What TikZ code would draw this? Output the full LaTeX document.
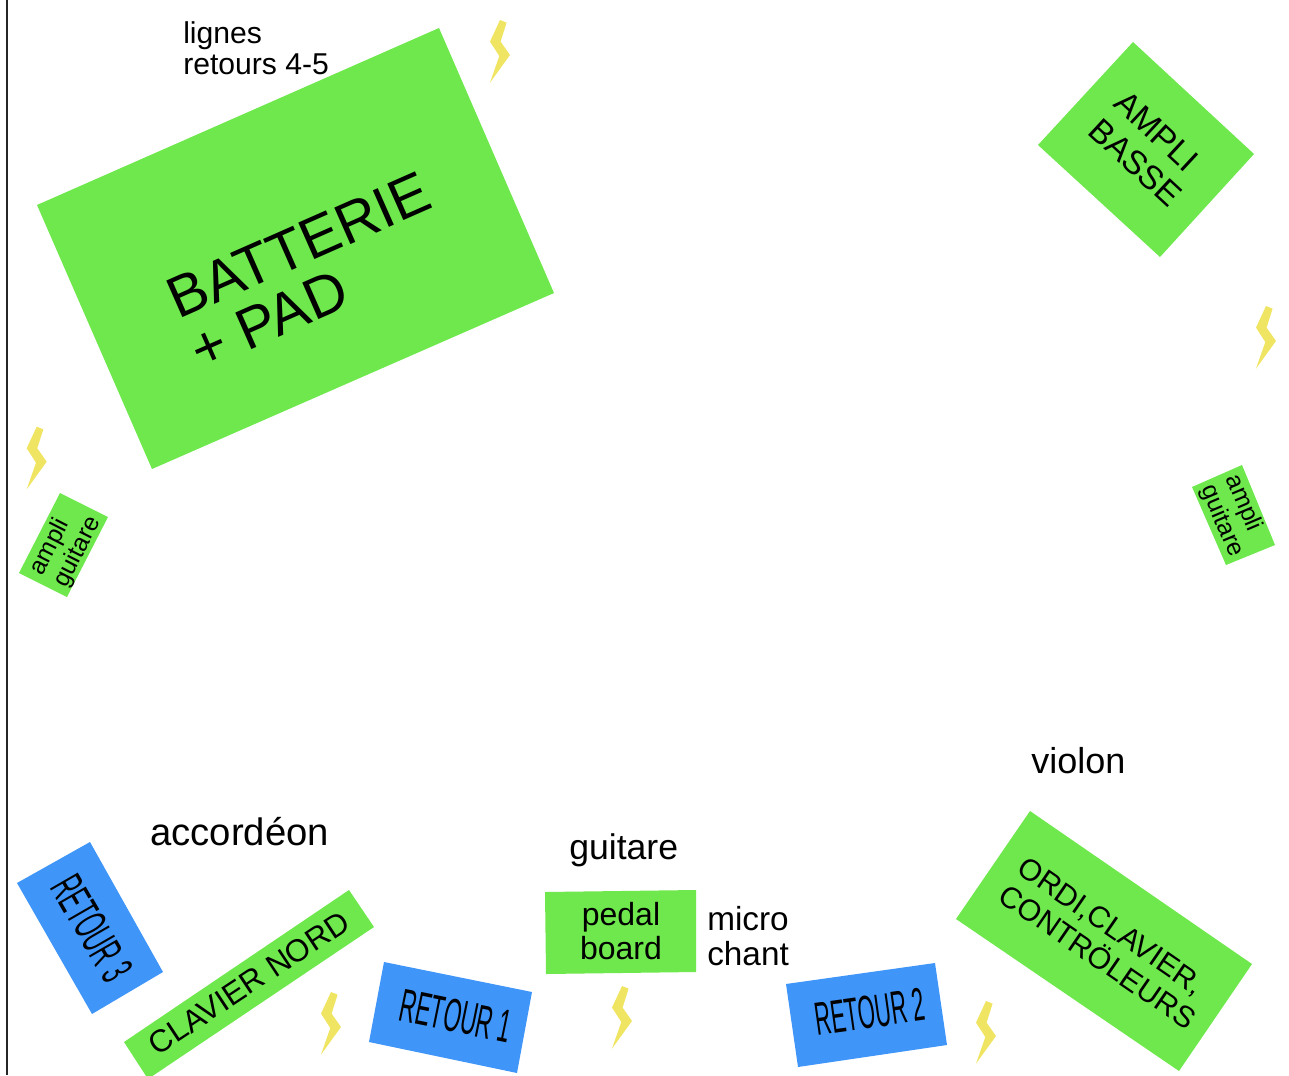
\documentclass[tikz,border=0pt]{standalone}
\usepackage{fontspec}
\setmainfont{Liberation Sans}
\definecolor{gr}{HTML}{6EE84C}
\definecolor{bl}{HTML}{4095F8}
\definecolor{yl}{HTML}{F0E562}
\newcommand{\fsz}[2]{\fontsize{#1}{#2}\selectfont}
\tikzset{
  plain/.style={inner sep=0pt,text=black},
  greenshape/.style={fill=gr,draw=none},
  blueshape/.style={fill=bl,draw=none},
  bolt/.pic={\fill[yl] (10,0)--(16.6,2.6)--(10.6,21.6)--(20,35)--(0,62.6)--(9.3,36)--(0,21.6)--cycle;}
}
\begin{document}
\begin{tikzpicture}[x=0.75pt,y=-0.75pt]
\useasboundingbox (0,0) rectangle (1289,1075);
\draw[color=black!85,line width=1.5pt] (7,0)--(7,1075);
\begin{scope}
\clip (0,0) rectangle (1289,1075);
\fill[greenshape] (439,28)--(554,293)--(152,469)--(37,205)--cycle;
\fill[greenshape] (1133,42)--(1254,154)--(1160,257)--(1038,145)--cycle;
\fill[greenshape] (1242,465)--(1275,545)--(1226,565)--(1192,487)--cycle;
\fill[greenshape] (60,493)--(108,517)--(67,597)--(19,573)--cycle;
\fill[greenshape] (349,890)--(374,927)--(148,1079)--(124,1042)--cycle;
\fill[greenshape] (545,892)--(696,890)--(696,972)--(546,974)--cycle;
\fill[greenshape] (1030,811)--(1252,964)--(1179,1071)--(956,919)--cycle;
\fill[blueshape] (90,842)--(163,972)--(92,1014)--(17,883)--cycle;
\fill[blueshape] (384,962)--(532,992)--(517,1073)--(369,1042)--cycle;
\fill[blueshape] (786,984)--(935,963)--(947,1045)--(798,1067)--cycle;
\end{scope}
\pic at (490,20) {bolt};
\pic at (1256,306) {bolt};
\pic at (26.7,426.7) {bolt};
\pic at (321,992) {bolt};
\pic at (612,986) {bolt};
\pic at (976,1001) {bolt};
\node[plain,align=left,rotate=23.8,font=\fsz{43.5}{42}] (batt) at (310,271) {BATTERIE\\+ PAD};
\node[plain,align=left,rotate=-42.8,font=\fsz{25}{28}] (basse) at (1148,149) {AMPLI\\BASSE};
\node[plain,align=left,rotate=-67,font=\fsz{18.5}{20}] (ag2) at (1234,516) {ampli\\guitare};
\node[plain,align=left,rotate=63,font=\fsz{18.5}{20}] (ag1) at (66,546) {ampli\\guitare};
\node[plain,rotate=33.5,font=\fsz{23.5}{23.5}] (nord) at (249,983) {CLAVIER NORD};
\node[plain,align=center,font=\fsz{24}{25}] (pedal) at (621,931) {pedal\\board};
\node[plain,align=left,rotate=-34.5,font=\fsz{22.5}{25}] (ordi) at (1107,943) {ORDI,CLAVIER,\\CONTRÖLEURS};
\node[plain,rotate=-60,font=\fsz{35}{35}] (r3) at (92,928) {\scalebox{.48}[1]{RETOUR 3}};
\node[plain,rotate=-11.5,font=\fsz{35}{35}] (r1) at (456,1016) {\scalebox{.48}[1]{RETOUR 1}};
\node[plain,rotate=8,font=\fsz{35}{35}] (r2) at (870,1012) {\scalebox{.47}[1]{RETOUR 2}};
\node[plain,align=left,anchor=north west,font=\fsz{22.6}{23.5}] (lignes) at (183,21) {lignes\\retours 4-5};
\node[plain,anchor=west,font=\fsz{28.7}{29}] (acc) at (150,832) {accordéon};
\node[plain,anchor=west,font=\fsz{26.7}{26.7}] (guit) at (569,850) {guitare};
\node[plain,anchor=west,font=\fsz{27}{27}] (violon) at (1031,761) {violon};
\node[plain,align=left,anchor=west,font=\fsz{25}{26}] (micro) at (707,936) {micro\\chant};
\end{tikzpicture}
\end{document}
